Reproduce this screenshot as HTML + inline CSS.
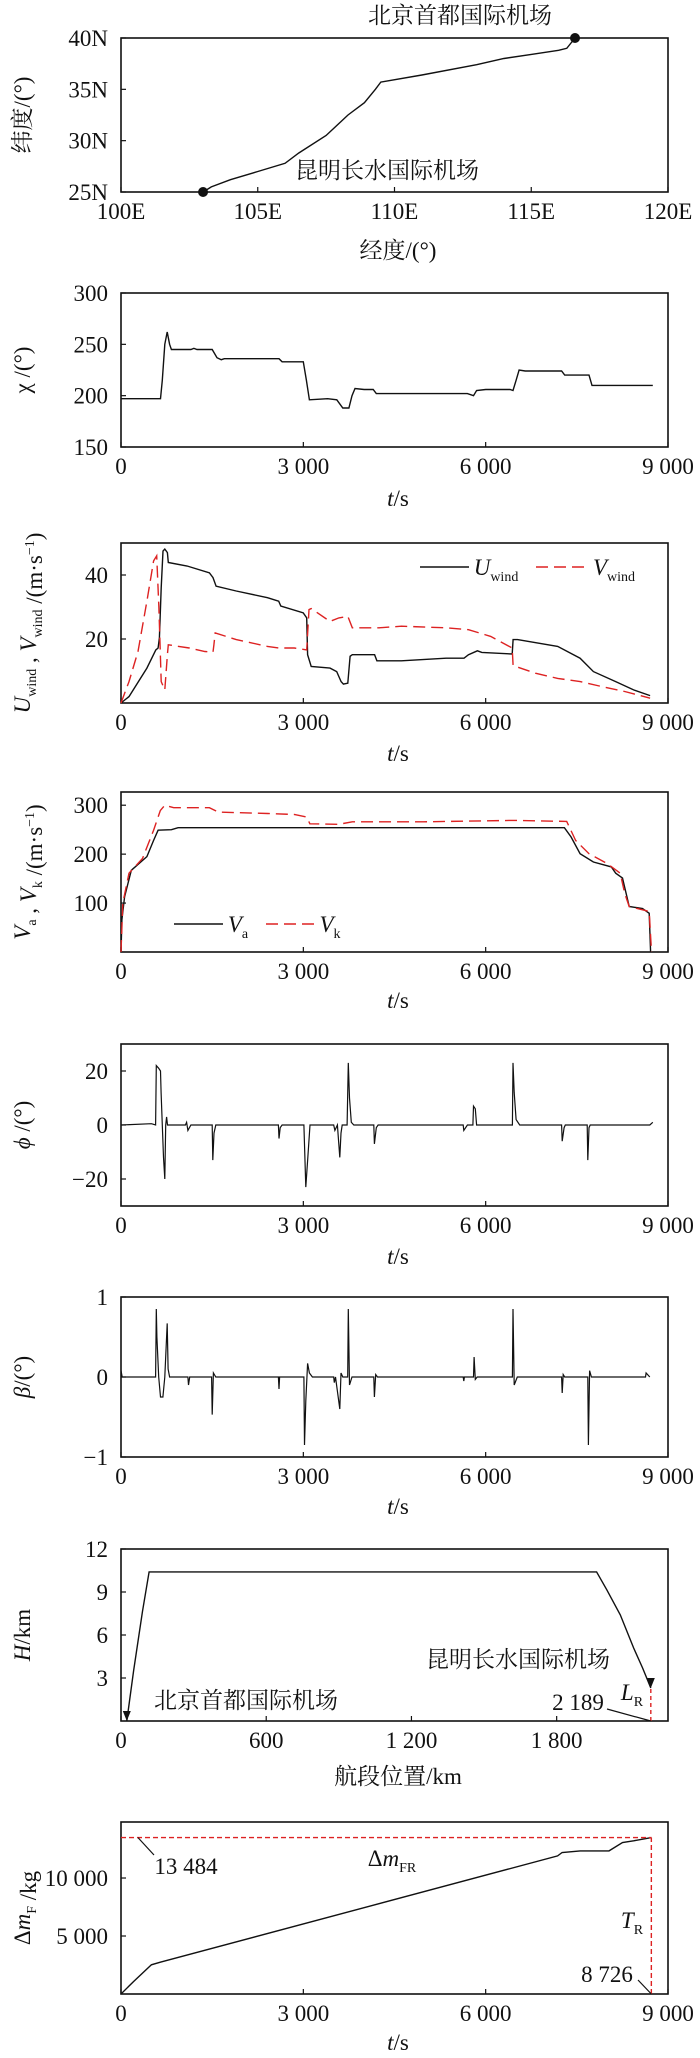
<!DOCTYPE html>
<html><head><meta charset="utf-8"><style>
html,body{margin:0;padding:0;background:#fff;}
svg{display:block;}
text{font-family:"Liberation Serif","Noto Serif CJK SC","Noto Sans CJK SC",serif;fill:#111;}
</style></head><body>
<svg id="fig" width="700" height="2058" viewBox="0 0 700 2058" xmlns="http://www.w3.org/2000/svg"></svg>
<script>
// ---- data ----
const routeLon=[103,103.3,104,105,106,106.5,107.5,108.3,108.9,109.3,109.5,111,113,114,115,116,116.3,116.6];
const routeLat=[25,25.5,26.2,27,27.8,28.8,30.5,32.5,33.7,35,35.7,36.4,37.4,38,38.4,38.8,39,40];
const lonTicks=[100,105,110,115,120];
const latTicks=[25,30,35,40];
const timeTicks=[0,3000,6000,9000];
const timeTickLabels=["0","3 000","6 000","9 000"];
const chiT=[0,650,680,720,760,800,830,1150,1200,1250,1500,1580,1650,1700,2600,2650,3000,3050,3100,3400,3550,3650,3750,3800,3850,4000,4150,4200,5700,5800,5850,6000,6400,6450,6500,6550,6650,7250,7300,7700,7750,8750];
const chiV=[197,197,215,250,262,250,245,245,246,245,245,237,235,236,236,233,233,215,196,197,196,188,188,200,207,206,206,202,202,200,205,206,206,205,215,225,224,224,220,220,210,210];
const chiTicks=[150,200,250,300];
const uT=[0,132,426,573,610,632,661,691,720,764,779,1087,1455,1513,1565,1896,2410,2594,2630,2998,3056,3071,3130,3438,3549,3622,3659,3732,3769,3806,4173,4210,4614,5349,5643,5717,5864,5937,6436,6451,6524,7185,7553,7773,8140,8434,8706];
const uV=[0,2.0,10.9,16.6,17.2,20.3,36,47.5,48.1,47,43.9,42.8,40.7,39.2,36.5,35,32.9,31.8,30.3,28.2,26.6,15.1,11.4,10.9,9.8,6.7,5.9,6.2,14.6,15.1,15.1,13.2,13.2,14.0,14.0,15.1,16.3,15.8,15.3,19.8,19.8,17.7,14.0,9.8,6.7,4.1,2.3];
const vT=[0,132,279,426,536,588,624,661,720,764,779,1124,1381,1513,1528,1550,1896,2410,2594,2851,3056,3093,3130,3438,3585,3732,3806,4247,4614,5349,5717,6083,6436,6451,6818,7185,7553,7920,8287,8706];
const vV=[0,6.7,16.1,31.8,44.4,46,29.7,6.7,4.1,15.1,18.2,17.2,16.1,15.9,18.2,21.9,19.8,17.7,17.2,17.2,16.6,29.2,29.5,25.5,26.6,27.1,23.5,23.5,24.0,23.5,22.9,20.8,17.2,11.7,9.3,7.7,6.7,5.1,3.6,1.5];
const windTicks=[20,40];
const vaT=[0,15,59,169,426,536,610,830,940,7296,7406,7553,7773,8067,8140,8251,8324,8361,8581,8691,8714];
const vaV=[0,66,113,167,195,228,249,250,254,254,235,201,184,174,161,151,113,93,89,79,0];
const vkT=[0,29,132,353,536,647,720,867,1455,1602,2410,2851,3056,3108,3585,3806,4981,6451,7333,7479,7700,7994,8214,8287,8361,8691,8728];
const vkV=[0,100,161,191,249,289,300,295,295,286,283,281,276,262,261,266,266,269,267,228,201,181,161,120,93,83,0];
const speedTicks=[100,200,300];
const phiT=[0,500,570,580,620,650,660,680,700,720,735,750,765,1060,1080,1100,1150,1500,1510,1530,1560,2590,2600,2620,2650,3010,3040,3080,3110,3500,3520,3560,3600,3620,3640,3720,3740,3760,3790,3830,4160,4170,4200,4230,5630,5640,5700,5790,5800,5830,5850,6440,6450,6470,6500,6560,7250,7260,7290,7310,7670,7680,7700,7720,8700,8750];
const phiV=[0,0.5,0,22,21,20,12,0,-12,-20,0,3,0,0,1,-2,0,0,-13,-3,0,0,-5,-1,0,0,-23,-10,0,0,-2,0,-12,-3,0,0,23,10,1,0,0,-7,-1,0,0,-2,0,0,7,6,0,0,23,12,2,0,0,-6,-1,0,0,-13,-1,0,0,1];
const phiTicks=[-20,0,20];
const betaT=[0,20,570,580,590,620,650,690,720,760,775,800,1100,1110,1130,1490,1500,1520,1560,2590,2600,2610,3010,3020,3040,3070,3100,3150,3500,3510,3530,3600,3620,3650,3730,3740,3760,3800,4160,4170,4190,4220,5630,5640,5650,5800,5810,5830,5860,6440,6450,6470,6520,7250,7260,7275,7300,7680,7690,7710,7740,8630,8640,8700];
const betaV=[0.08,0,0,0.85,0.5,0,-0.25,-0.25,0,0.67,0.1,0,0,-0.1,0,0,-0.47,0.05,0,0,-0.15,0,0,-0.85,-0.3,0.17,0.05,0,0,-0.07,0,-0.4,0.05,0,0,0.85,-0.1,0,0,-0.25,0.03,0,0,-0.05,0,0,0.25,-0.03,0,0,0.85,-0.1,0,0,-0.2,0.03,0,0,-0.85,0.08,0,0,0.05,0];
const betaTicks=[-1,0,1];
const hKm=[24,52,89,116,125,1965,2007,2063,2118,2155,2189];
const hVal=[0,3.5,7.65,10.4,10.4,10.4,9.15,7.4,5.1,3.7,2.3];
const kmTicks=[0,600,1200,1800];
const kmTickLabels=["0","600","1 200","1 800"];
const hTicks=[3,6,9,12];
const fuelT=[0,206,500,647,7184,7257,7553,8030,8251,8434,8728];
const fuelV=[0,1069,2514,2746,11908,12197,12341,12341,13064,13208,13484];
const fuelTicks=[5000,10000];
const fuelTickLabels=["5 000","10 000"];
const fuelTotal=13484;
const fuelTime=8726;
const rangeKm=2189;

// ---- helpers ----
const NS="http://www.w3.org/2000/svg";
const svg=document.getElementById('fig');
function el(tag,attrs,parent){const e=document.createElementNS(NS,tag);for(const k in attrs)e.setAttribute(k,attrs[k]);(parent||svg).appendChild(e);return e;}
const X0=121,X1=668;
function lin(d0,d1,r0,r1){return v=>r0+(v-d0)/(d1-d0)*(r1-r0);}
function panel(name,y0,y1,xd,yd){
  const g=el('g',{});
  
  
  const fr=el('rect',{x:X0,y:y0,width:X1-X0,height:y1-y0,fill:'none',stroke:'#111','stroke-width':1.6},g);
  
  
  return {g,y0,y1,sx:lin(xd[0],xd[1],X0,X1),sy:lin(yd[0],yd[1],y1,y0)};
}
function xTicks(p,vals,labels){
  vals.forEach((v,i)=>{
    const x=p.sx(v);
    const t=el('line',{x1:x,x2:x,y1:p.y1,y2:p.y1-5,stroke:'#111','stroke-width':1.2},p.g);
    
    
    const tx=el('text',{x:x,y:p.y1+27,'text-anchor':'middle','font-size':23},p.g);
    tx.textContent=labels[i];
    
    
  });
}
function yTicks(p,vals,labels){
  vals.forEach((v,i)=>{
    const y=p.sy(v);
    const t=el('line',{x1:X0,x2:X0+5,y1:y,y2:y,stroke:'#111','stroke-width':1.2},p.g);
    
    
    const tx=el('text',{x:108,y:y+8,'text-anchor':'end','font-size':23},p.g);
    tx.textContent=labels[i];
    
    
  });
}
function series(p,xs,ys,name,color,dash,w){
  const d=xs.map((x,i)=>(i?'L':'M')+p.sx(x).toFixed(1)+','+p.sy(ys[i]).toFixed(1)).join('');
  const path=el('path',{d:d,fill:'none',stroke:color,'stroke-width':w||1.4,'stroke-dasharray':dash||'none'},p.g);
  
  
  return path;
}
function label(html,x,y,name,opts){
  const t=el('text',Object.assign({x:x,y:y,'font-size':23,'text-anchor':'middle'},opts||{}));
  t.innerHTML=html;
  
  
  return t;
}
function yLabel(html,cy,name){
  const t=el('text',{x:0,y:0,'font-size':23,'text-anchor':'middle',transform:'translate(30,'+cy+') rotate(-90)'});
  t.innerHTML=html;
  
  
}
const SUB=(s)=>'<tspan font-size="14" dy="6" font-style="normal">'+s+'</tspan><tspan dy="-6"></tspan>';

// ---- panel 1: route ----
const p1=panel('route-map',38,192,[100,120],[25,40]);
xTicks(p1,lonTicks,lonTicks.map(v=>v+'E'));
yTicks(p1,latTicks,latTicks.map(v=>v+'N'));
series(p1,routeLon,routeLat,'route-line','#111');
const d1=el('circle',{cx:p1.sx(routeLon[0]),cy:p1.sy(routeLat[0]),r:5,fill:'#111'},p1.g);


const d2=el('circle',{cx:p1.sx(routeLon[routeLon.length-1]),cy:p1.sy(routeLat[routeLat.length-1]),r:5,fill:'#111'},p1.g);


label('北京首都国际机场',460,23,'beijing-label');
label('昆明长水国际机场',387,178,'kunming-label');
label('经度/(°)',398,258,'x-axis-title');
yLabel('纬度/(°)',115,'y-axis-title');

// ---- panel 2: chi ----
const p2=panel('course-angle-chart',293,447,[0,9000],[150,300]);
xTicks(p2,timeTicks,timeTickLabels);
yTicks(p2,chiTicks,chiTicks.map(String));
const chiSx=[],chiSy=[];
chiT.forEach((t,i)=>{chiSx.push(t);chiSy.push(chiV[i]);});
series(p2,chiSx,chiSy,'chi-line','#111');
label('<tspan font-style="italic">t</tspan>/s',398,506,'x-axis-title');
yLabel('χ /(°)',370,'y-axis-title');

// ---- panel 3: wind ----
const p3=panel('wind-chart',543,703,[0,9000],[0,50]);
xTicks(p3,timeTicks,timeTickLabels);
yTicks(p3,windTicks,windTicks.map(String));
series(p3,uT,uV,'u-wind-line','#111');
series(p3,vT,vV,'v-wind-line','#d22','12,6');
const lg1=el('line',{x1:420,x2:469,y1:567,y2:567,stroke:'#111','stroke-width':1.4});


label('<tspan font-style="italic">U</tspan>'+SUB('wind'),496,575,'legend-u-wind-label');
const lg2=el('line',{x1:536,x2:589,y1:567,y2:567,stroke:'#d22','stroke-width':1.4,'stroke-dasharray':'12,6'});


label('<tspan font-style="italic">V</tspan>'+SUB('wind'),614,575,'legend-v-wind-label');
label('<tspan font-style="italic">t</tspan>/s',398,761,'x-axis-title');
yLabel('<tspan font-style="italic">U</tspan>'+SUB('wind')+' , <tspan font-style="italic">V</tspan>'+SUB('wind')+' /(m·s<tspan font-size="14" dy="-8">−1</tspan><tspan dy="8">)</tspan>',623,'y-axis-title');

// ---- panel 4: speeds ----
const p4=panel('speed-chart',792,952,[0,9000],[0,327]);
xTicks(p4,timeTicks,timeTickLabels);
yTicks(p4,speedTicks,speedTicks.map(String));
series(p4,vaT,vaV,'va-line','#111');
series(p4,vkT,vkV,'vk-line','#d22','12,6');
const lg3=el('line',{x1:174,x2:223,y1:924,y2:924,stroke:'#111','stroke-width':1.4});


label('<tspan font-style="italic">V</tspan>'+SUB('a'),238,932,'legend-va-label');
const lg4=el('line',{x1:266,x2:315,y1:924,y2:924,stroke:'#d22','stroke-width':1.4,'stroke-dasharray':'12,6'});


label('<tspan font-style="italic">V</tspan>'+SUB('k'),330,932,'legend-vk-label');
label('<tspan font-style="italic">t</tspan>/s',398,1008,'x-axis-title');
yLabel('<tspan font-style="italic">V</tspan>'+SUB('a')+' , <tspan font-style="italic">V</tspan>'+SUB('k')+' /(m·s<tspan font-size="14" dy="-8">−1</tspan><tspan dy="8">)</tspan>',872,'y-axis-title');

// ---- panel 5: phi ----
const p5=panel('bank-angle-chart',1044,1206,[0,9000],[-30,30]);
xTicks(p5,timeTicks,timeTickLabels);
yTicks(p5,phiTicks,phiTicks.map(v=>v<0?'−'+(-v):String(v)));
series(p5,phiT,phiV,'phi-line','#111',null,1.2);
label('<tspan font-style="italic">t</tspan>/s',398,1264,'x-axis-title');
yLabel('<tspan font-style="italic">ϕ</tspan> /(°)',1125,'y-axis-title');

// ---- panel 6: beta ----
const p6=panel('sideslip-chart',1297,1457,[0,9000],[-1,1]);
xTicks(p6,timeTicks,timeTickLabels);
yTicks(p6,betaTicks,betaTicks.map(v=>v<0?'−'+(-v):String(v)));
series(p6,betaT,betaV,'beta-line','#111',null,1.2);
label('<tspan font-style="italic">t</tspan>/s',398,1514,'x-axis-title');
yLabel('<tspan font-style="italic">β</tspan>/(°)',1377,'y-axis-title');

// ---- panel 7: altitude ----
const p7=panel('altitude-chart',1549,1721,[0,2260],[0,12]);
xTicks(p7,kmTicks,kmTickLabels);
yTicks(p7,hTicks,hTicks.map(String));
series(p7,hKm,hVal,'altitude-line','#111');
const rl=el('line',{x1:p7.sx(rangeKm),x2:p7.sx(rangeKm),y1:p7.sy(0),y2:p7.sy(hVal[hVal.length-1]),stroke:'#d22','stroke-width':1.4,'stroke-dasharray':'4,3'},p7.g);


const ah1=el('path',{d:'M'+(p7.sx(hKm[0])-4)+','+(p7.sy(0)-10)+'l4,10l4,-10z',fill:'#111'},p7.g);


const ex=p7.sx(rangeKm),ey=p7.sy(hVal[hVal.length-1]);
const ah2=el('path',{d:'M'+(ex-4)+','+(ey-10)+'l4,10l4,-10z',fill:'#111'},p7.g);


label('北京首都国际机场',246,1708,'beijing-label');
label('昆明长水国际机场',518,1667,'kunming-label');
label('2 189',578,1710,'range-value-label');
label('<tspan font-style="italic">L</tspan>'+SUB('R'),632,1700,'range-symbol-label');
const ll=el('line',{x1:607,y1:1709,x2:ex,y2:p7.sy(0),stroke:'#111','stroke-width':1.2});


label('航段位置/km',398,1784,'x-axis-title');
yLabel('<tspan font-style="italic">H</tspan>/km',1635,'y-axis-title');

// ---- panel 8: fuel ----
const p8=panel('fuel-chart',1822,1994,[0,9000],[0,14830]);
xTicks(p8,timeTicks,timeTickLabels);
yTicks(p8,fuelTicks,fuelTickLabels);
series(p8,fuelT,fuelV,'fuel-line','#111');
const fh=el('line',{x1:p8.sx(0),x2:p8.sx(fuelTime),y1:p8.sy(fuelTotal),y2:p8.sy(fuelTotal),stroke:'#d22','stroke-width':1.4,'stroke-dasharray':'5,3'},p8.g);


const fv=el('line',{x1:p8.sx(fuelTime),x2:p8.sx(fuelTime),y1:p8.sy(0),y2:p8.sy(fuelTotal),stroke:'#d22','stroke-width':1.4,'stroke-dasharray':'5,3'},p8.g);


const l1=el('line',{x1:138,y1:p8.sy(fuelTotal),x2:154,y2:1855,stroke:'#111','stroke-width':1.2});


label('13 484',186,1874,'fuel-value-label');
label('Δ<tspan font-style="italic">m</tspan>'+SUB('FR'),392,1866,'fuel-symbol-label');
label('<tspan font-style="italic">T</tspan>'+SUB('R'),632,1928,'time-symbol-label');
label('8 726',607,1982,'time-value-label');
const l2=el('line',{x1:638,y1:1980,x2:p8.sx(fuelTime),y2:p8.sy(0),stroke:'#111','stroke-width':1.2});


label('<tspan font-style="italic">t</tspan>/s',398,2050,'x-axis-title');
yLabel('Δ<tspan font-style="italic">m</tspan>'+SUB('F')+' /kg',1908,'y-axis-title');
</script>
</body></html>
